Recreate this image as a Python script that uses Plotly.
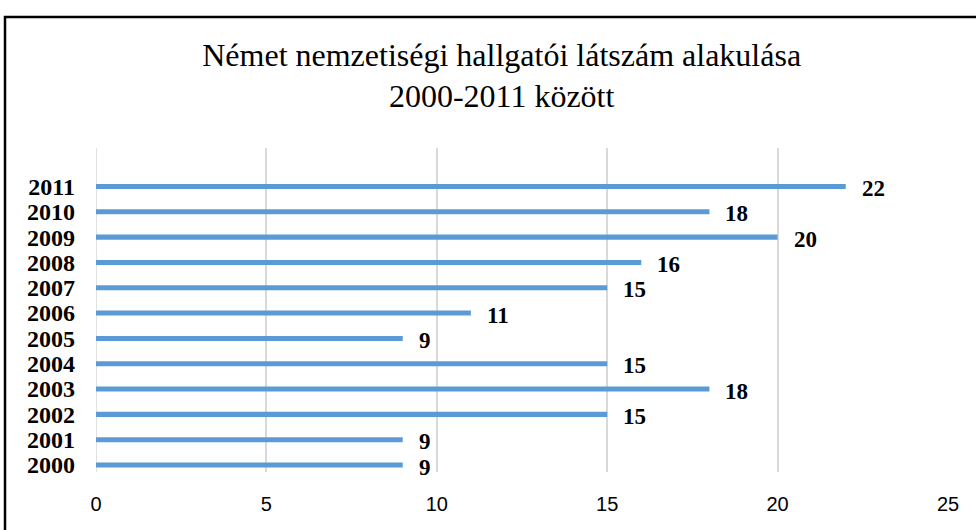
import plotly.graph_objects as go

# hallgatói létszám évenként
YEARS = ["2000", "2001", "2002", "2003", "2004", "2005",
         "2006", "2007", "2008", "2009", "2010", "2011"]
STUDENTS = [9, 9, 15, 18, 15, 9, 11, 15, 16, 20, 18, 22]
X_TICKS = [0, 5, 10, 15, 20, 25]

TITLE = "Német nemzetiségi hallgatói látszám alakulása<br>2000-2011 között"

SERIF = "Liberation Serif, Times New Roman, serif"
SANS = "Liberation Sans, Arial, sans-serif"


def build_figure():
    fig = go.Figure()
    fig.add_trace(go.Bar(
        x=STUDENTS,
        y=YEARS,
        orientation="h",
        width=0.2,
        marker=dict(color="#5b9bd5", line=dict(width=0)),
        hoverinfo="x+y",
    ))

    # value labels right of the bar ends (y given as category index)
    for i, val in enumerate(STUDENTS):
        fig.add_annotation(
            x=val, y=i, text=str(val),
            showarrow=False, xanchor="left", yanchor="middle",
            xshift=14, yshift=-2,
            font=dict(family=SERIF, size=23, color="#000000", weight="bold"),
        )

    # black frame around the chart (runs off the right and bottom edge)
    fig.add_shape(
        type="rect", xref="paper", yref="paper",
        x0=-0.1068, x1=1.2, y0=-0.4, y1=1.4043,
        line=dict(color="#000000", width=2.5),
        fillcolor="rgba(0,0,0,0)", layer="above",
    )

    fig.update_layout(
        width=976, height=530,
        margin=dict(l=96, r=28, t=148, b=58, autoexpand=False),
        paper_bgcolor="white", plot_bgcolor="white",
        showlegend=False,
        title=dict(
            text=TITLE, x=0.514, xanchor="center", xref="container",
            y=0.876, yanchor="middle", yref="container",
            font=dict(family=SERIF, size=32, color="#000000"),
        ),
        xaxis=dict(
            range=[0, 25], tickvals=X_TICKS, automargin=False,
            showgrid=True, gridcolor="#d9d9d9", gridwidth=1.5,
            zeroline=False, showline=False, ticks="",
            ticklabelstandoff=18,
            tickfont=dict(family=SANS, size=20, color="#000000"),
        ),
        yaxis=dict(
            type="category", categoryorder="array", categoryarray=YEARS,
            tickmode="array", tickvals=YEARS, automargin=False,
            range=[-0.276, 12.52],
            showgrid=False, zeroline=False, showline=False, ticks="",
            ticklabelstandoff=20,
            tickfont=dict(family=SERIF, size=24, color="#000000", weight="bold"),
        ),
        bargap=0.8,
    )
    # the x=0 gridline is drawn as a grey axis line in the original
    fig.add_vline(x=0, line=dict(color="#d9d9d9", width=1.5), layer="below")
    return fig


if __name__ == "__main__":
    fig = build_figure()
    # drop the default page margin so the figure sits at the window's corner
    fig.write_html("out.html", config={"displayModeBar": False},
                   post_script="document.body.style.margin='0';")
